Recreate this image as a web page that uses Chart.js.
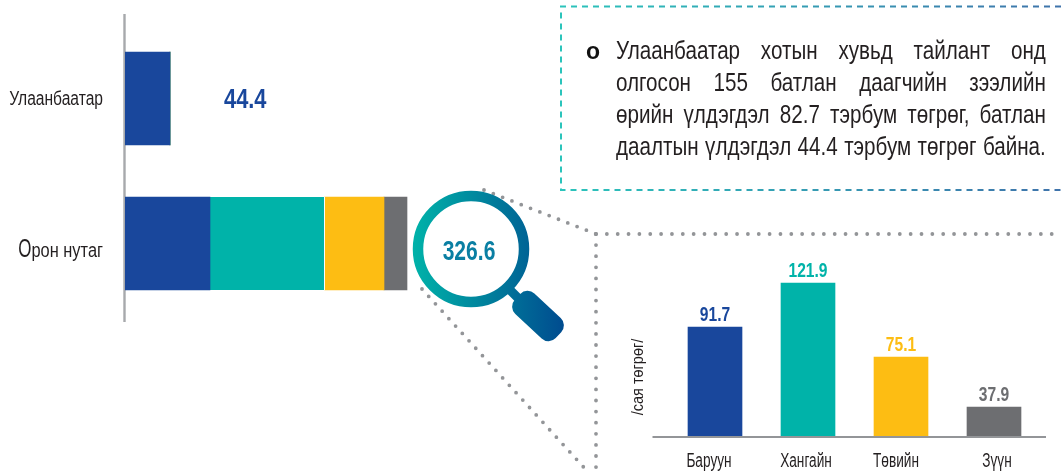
<!DOCTYPE html>
<html>
<head>
<meta charset="utf-8">
<script src="https://cdn.jsdelivr.net/npm/chart.js@4"></script>
<style>
  html, body { margin: 0; padding: 0; background: #fff; overflow: hidden; }
  canvas { position: absolute; }
  #note { position: absolute; left: 616px; top: 34px; width: 521px; color: #231f20;
    font: 25px/32px "Liberation Sans", sans-serif; transform: scaleX(0.825); transform-origin: left top; }
  #note div { text-align: justify; text-align-last: justify; white-space: nowrap; }
  #bullet { position: absolute; left: 586px; top: 35px; color: #111; font: bold 23px/32px "Liberation Sans", sans-serif; }
</style>
</head>
<body>
<canvas id="overview" width="1061" height="475" style="left:0;top:0"></canvas>
<canvas id="regions" width="461" height="235" style="left:600px;top:240px"></canvas>
<div id="bullet">o</div>
<div id="note"></div>
<script>
const sans = '"Liberation Sans", sans-serif';

const BLUE = '#19479c';
const TEAL = '#00b3a9';
const YELLOW = '#fdbd13';
const GREY = '#6d6e71';
const DOTS = '#939598';

const noteLines = [
  'Улаанбаатар хотын хувьд тайлант онд',
  'олгосон 155 батлан даагчийн зээлийн',
  'өрийн үлдэгдэл 82.7 тэрбум төгрөг, батлан',
  'даалтын үлдэгдэл 44.4 тэрбум төгрөг байна.'
];

const groups = ['Улаанбаатар', 'Орон нутаг'];
const cityLabel = '44.4';
const totalLabel = '326.6';

const regionNames = ['Баруун', 'Хангайн', 'Төвийн', 'Зүүн'];
const regionLabels = ['91.7', '121.9', '75.1', '37.9'];
const regionColors = [BLUE, TEAL, YELLOW, GREY];

// the source picture is not to scale, so these are the drawn lengths read off it
const westLengths = [45, 85];
const khangaiLengths = [0, 114.7];
const centralLengths = [0, 59.3];
const eastLengths = [0, 23];
const regionHeights = [109, 153, 79, 29];

document.getElementById('note').innerHTML = noteLines.map(l => '<div>' + l + '</div>').join('');

// no condensed face is installed, so text gets squeezed horizontally
function narrowText(ctx, text, x, y, sx) {
  ctx.save();
  ctx.translate(x, y);
  ctx.scale(sx, 1);
  ctx.fillText(text, 0, 0);
  ctx.restore();
}

function dotted(ctx, x1, y1, x2, y2, gap) {
  ctx.save();
  ctx.strokeStyle = DOTS;
  ctx.lineWidth = 3.8;
  ctx.lineCap = 'round';
  ctx.setLineDash([0, gap]);
  ctx.beginPath();
  ctx.moveTo(x1, y1);
  ctx.lineTo(x2, y2);
  ctx.stroke();
  ctx.restore();
}

const overviewDecor = {
  id: 'overviewDecor',
  beforeDatasetsDraw(chart) {
    const { ctx, chartArea, scales } = chart;
    const x0 = scales.x.getPixelForValue(0);
    ctx.save();
    ctx.strokeStyle = '#a7a9ac';
    ctx.lineWidth = 2.4;
    ctx.beginPath();
    ctx.moveTo(x0 - 0.5, chartArea.top - 12);
    ctx.lineTo(x0 - 0.5, chartArea.bottom + 6);
    ctx.stroke();
    ctx.restore();
  },
  afterDraw(chart) {
    const { ctx, scales } = chart;
    const x0 = scales.x.getPixelForValue(0);
    ctx.save();
    ctx.textBaseline = 'alphabetic';

    // category labels, the first letter of the second one is oversized in the source
    ctx.fillStyle = '#231f20';
    ctx.textAlign = 'right';
    ctx.font = '20px ' + sans;
    narrowText(ctx, groups[0], x0 - 22, scales.y.getPixelForTick(0) + 6.5, 0.78);
    const y2 = scales.y.getPixelForTick(1) + 13;
    const rest = groups[1].slice(1);
    narrowText(ctx, rest, x0 - 22, y2, 0.82);
    const restW = ctx.measureText(rest).width * 0.82;
    ctx.font = '26px ' + sans;
    narrowText(ctx, groups[1][0], x0 - 22 - restW, y2, 0.65);

    // city value
    ctx.textAlign = 'left';
    ctx.fillStyle = BLUE;
    ctx.font = 'bold 28px ' + sans;
    narrowText(ctx, cityLabel, scales.x.getPixelForValue(westLengths[0]) + 54, scales.y.getPixelForTick(0) + 9, 0.78);

    // dotted zoom lines
    dotted(ctx, 484, 190, 596, 234, 10);
    dotted(ctx, 422, 289, 588, 472, 10);
    dotted(ctx, 596, 234, 1061, 234, 10.85);
    dotted(ctx, 596, 234, 596, 470, 11.1);

    // magnifier
    const grad = ctx.createLinearGradient(412, 0, 566, 0);
    grad.addColorStop(0, '#00b3a9');
    grad.addColorStop(1, '#004a8f');
    ctx.strokeStyle = grad;
    ctx.lineWidth = 10.5;
    ctx.beginPath();
    ctx.arc(471, 249, 53, 0, Math.PI * 2);
    ctx.fillStyle = '#fff';
    ctx.fill();
    ctx.stroke();
    ctx.fillStyle = grad;
    ctx.lineWidth = 9;
    ctx.beginPath();
    ctx.moveTo(506, 286);
    ctx.lineTo(522, 302);
    ctx.stroke();
    ctx.save();
    ctx.translate(538, 316);
    ctx.rotate(43 * Math.PI / 180);
    ctx.beginPath();
    ctx.roundRect(-28, -14, 56, 28, 10);
    ctx.restore();
    ctx.fill();
    ctx.textAlign = 'center';
    ctx.fillStyle = '#0a7fa3';
    ctx.font = 'bold 27px ' + sans;
    narrowText(ctx, totalLabel, 469, 260, 0.78);

    // dashed note frame
    const frame = ctx.createLinearGradient(561, 0, 1061, 0);
    frame.addColorStop(0, '#2bc4bb');
    frame.addColorStop(1, '#3f73ab');
    ctx.strokeStyle = frame;
    ctx.lineWidth = 2;
    ctx.setLineDash([6, 5]);
    ctx.beginPath();
    ctx.moveTo(1061, 6.5);
    ctx.lineTo(561, 6.5);
    ctx.lineTo(561, 190);
    ctx.lineTo(1061, 190);
    ctx.stroke();
    ctx.restore();
  }
};

new Chart(document.getElementById('overview'), {
  type: 'bar',
  data: {
    labels: groups,
    datasets: [
      { label: 'Баруун', data: westLengths, backgroundColor: BLUE },
      { label: 'Хангайн', data: khangaiLengths, backgroundColor: TEAL, borderColor: '#fff', borderWidth: { right: 1 }, borderSkipped: false },
      { label: 'Төвийн', data: centralLengths, backgroundColor: YELLOW },
      { label: 'Зүүн', data: eastLengths, backgroundColor: GREY }
    ]
  },
  options: {
    indexAxis: 'y',
    responsive: false,
    animation: false,
    datasets: { bar: { barThickness: 93 } },
    layout: { padding: { left: 125, right: 636, top: 26, bottom: 159 } },
    plugins: { legend: { display: false }, tooltip: { enabled: false } },
    scales: {
      x: { stacked: true, min: 0, max: 300, display: false },
      y: { stacked: true, display: false }
    }
  },
  plugins: [overviewDecor]
});

// the source labels sit a little off their bars
const nameNudge = [-6, -2, -5, 3];

const regionDecor = {
  id: 'regionDecor',
  afterDraw(chart) {
    const { ctx, chartArea, scales } = chart;
    const y0 = scales.y.getPixelForValue(0);
    ctx.save();
    ctx.strokeStyle = DOTS;
    ctx.lineWidth = 2;
    ctx.beginPath();
    ctx.moveTo(chartArea.left - 16, y0 + 1);
    ctx.lineTo(chartArea.right + 5.5, y0 + 1);
    ctx.stroke();

    ctx.textAlign = 'center';
    ctx.textBaseline = 'alphabetic';
    regionLabels.forEach((label, i) => {
      const x = scales.x.getPixelForTick(i);
      ctx.fillStyle = regionColors[i];
      ctx.font = 'bold 20px ' + sans;
      narrowText(ctx, label, x, scales.y.getPixelForValue(regionHeights[i]) - 6, 0.78);
      ctx.fillStyle = '#231f20';
      ctx.font = '19.5px ' + sans;
      narrowText(ctx, regionNames[i], x + nameNudge[i], y0 + 31, 0.7);
    });

    ctx.translate(38, 137);
    ctx.rotate(-Math.PI / 2);
    ctx.fillStyle = '#231f20';
    ctx.textBaseline = 'middle';
    ctx.font = '17px ' + sans;
    narrowText(ctx, '/сая төгрөг/', 0, 0, 0.85);
    ctx.restore();
  }
};

new Chart(document.getElementById('regions'), {
  type: 'bar',
  data: {
    labels: regionNames,
    datasets: [{ data: regionHeights, backgroundColor: regionColors, barThickness: 54 }]
  },
  options: {
    responsive: false,
    animation: false,
    layout: { padding: { left: 68.5, right: 20.5, top: 16, bottom: 39 } },
    plugins: { legend: { display: false }, tooltip: { enabled: false } },
    scales: {
      x: { display: false },
      y: { min: 0, max: 180, display: false }
    }
  },
  plugins: [regionDecor]
});
</script>
</body>
</html>
